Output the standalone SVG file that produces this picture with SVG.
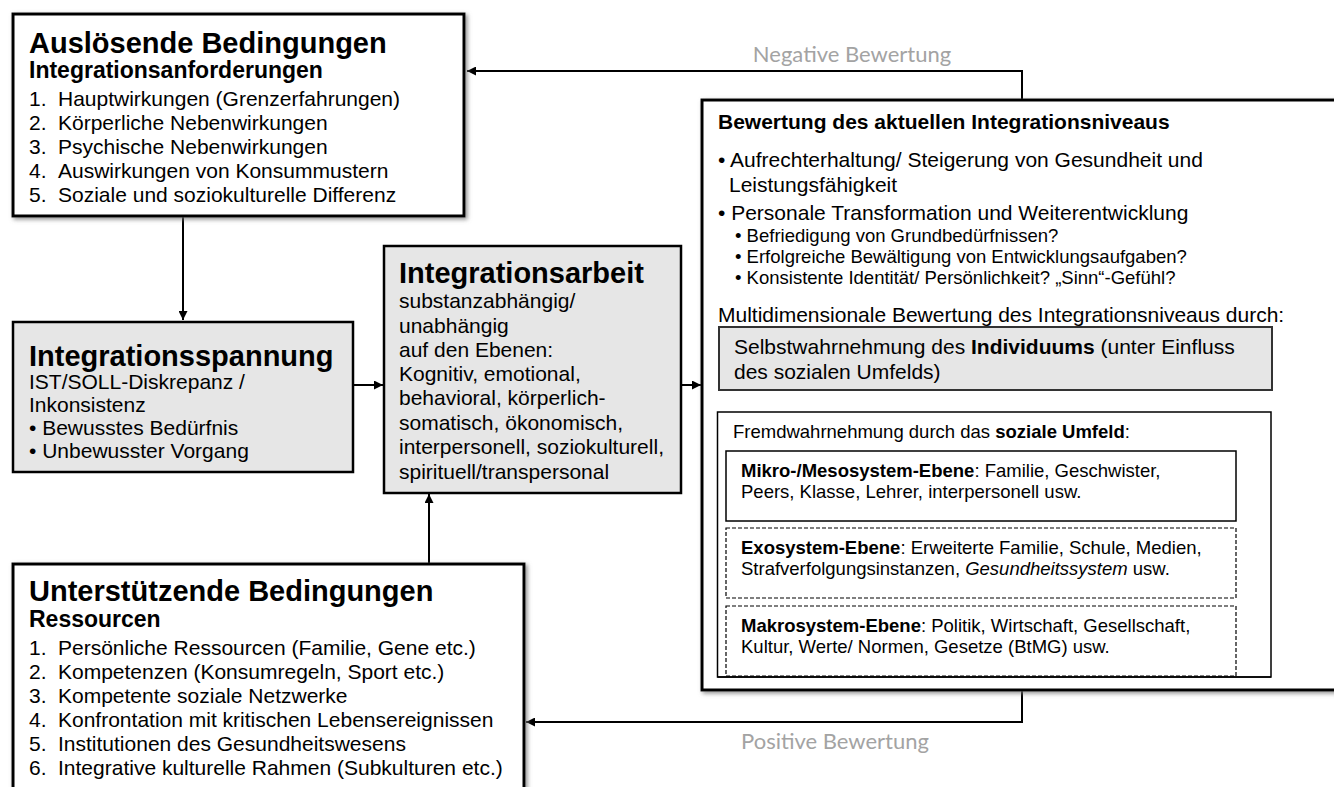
<svg xmlns="http://www.w3.org/2000/svg" width="1334" height="787" viewBox="0 0 1334 787">
<defs>
<filter id="sh" x="-5%" y="-5%" width="110%" height="110%">
<feDropShadow dx="2" dy="2" stdDeviation="2" flood-color="#777" flood-opacity="0.8"/>
</filter>
<marker id="ah" viewBox="0 0 10 10" refX="10" refY="5" markerWidth="9" markerHeight="9" markerUnits="userSpaceOnUse" orient="auto">
<path d="M0,0 L10,5 L0,10 z" fill="#000"/>
</marker>
</defs>
<style>
text{font-family:"Liberation Sans",Arial,sans-serif;fill:#000}
.t1{font-size:29px;font-weight:bold}
.t2{font-size:23px;font-weight:bold}
.b{font-size:21px}
.s{font-size:18.5px}
.lbl{font-family:Lato,"Open Sans",sans-serif;font-size:22px;fill:#a3a3a3}
.box{fill:#fff;stroke:#000;stroke-width:3}
.gbox{fill:#e6e6e6;stroke:#000;stroke-width:2.5}
.con{fill:none;stroke:#000;stroke-width:2}
.bold{font-weight:bold}
</style>
<rect width="1334" height="787" fill="#fff"/>

<g id="connectors">
<path class="con" d="M1022,100 V71 H467" marker-end="url(#ah)"/>
<path class="con" d="M1022,690 V722 H526" marker-end="url(#ah)"/>
<path class="con" d="M183,217 V320" marker-end="url(#ah)"/>
<path class="con" d="M354,385 H383" marker-end="url(#ah)"/>
<path class="con" d="M681,385 H701" marker-end="url(#ah)"/>
<path class="con" d="M429,564 V494" marker-end="url(#ah)"/>
<text class="lbl" x="852" y="62" text-anchor="middle">Negative Bewertung</text>
<text class="lbl" x="835" y="749" text-anchor="middle">Positive Bewertung</text>
</g>

<g id="ausloesende">
<rect class="box" x="13" y="14" width="451" height="202" filter="url(#sh)"/>
<text class="t1" x="29" y="53">Auslösende Bedingungen</text>
<text class="t2" x="29" y="78">Integrationsanforderungen</text>
<text class="b" x="29" y="106">1.</text><text class="b" x="58" y="106">Hauptwirkungen (Grenzerfahrungen)</text>
<text class="b" x="29" y="130">2.</text><text class="b" x="58" y="130">Körperliche Nebenwirkungen</text>
<text class="b" x="29" y="154">3.</text><text class="b" x="58" y="154">Psychische Nebenwirkungen</text>
<text class="b" x="29" y="178">4.</text><text class="b" x="58" y="178">Auswirkungen von Konsummustern</text>
<text class="b" x="29" y="202">5.</text><text class="b" x="58" y="202">Soziale und soziokulturelle Differenz</text>
</g>

<g id="spannung">
<rect class="gbox" x="13" y="322" width="340" height="150"/>
<text class="t1" x="29" y="366">Integrationsspannung</text>
<text class="b" x="29" y="389">IST/SOLL-Diskrepanz /</text>
<text class="b" x="29" y="412">Inkonsistenz</text>
<text class="b" x="29" y="435">• Bewusstes Bedürfnis</text>
<text class="b" x="29" y="458">• Unbewusster Vorgang</text>
</g>

<g id="arbeit">
<rect class="gbox" x="384" y="246" width="297" height="247"/>
<text class="t1" x="399" y="283">Integrationsarbeit</text>
<text class="b" x="399" y="308">substanzabhängig/</text>
<text class="b" x="399" y="333">unabhängig</text>
<text class="b" x="399" y="357">auf den Ebenen:</text>
<text class="b" x="399" y="381">Kognitiv, emotional,</text>
<text class="b" x="399" y="405">behavioral, körperlich-</text>
<text class="b" x="399" y="430">somatisch, ökonomisch,</text>
<text class="b" x="399" y="454">interpersonell, soziokulturell,</text>
<text class="b" x="399" y="479">spirituell/transpersonal</text>
</g>

<g id="unterstuetzende">
<rect class="box" x="13" y="564" width="511" height="240" filter="url(#sh)"/>
<text class="t1" x="29" y="601">Unterstützende Bedingungen</text>
<text class="t2" x="29" y="627">Ressourcen</text>
<text class="b" x="29" y="655">1.</text><text class="b" x="58" y="655">Persönliche Ressourcen (Familie, Gene etc.)</text>
<text class="b" x="29" y="679">2.</text><text class="b" x="58" y="679">Kompetenzen (Konsumregeln, Sport etc.)</text>
<text class="b" x="29" y="703">3.</text><text class="b" x="58" y="703">Kompetente soziale Netzwerke</text>
<text class="b" x="29" y="727">4.</text><text class="b" x="58" y="727">Konfrontation mit kritischen Lebensereignissen</text>
<text class="b" x="29" y="751">5.</text><text class="b" x="58" y="751">Institutionen des Gesundheitswesens</text>
<text class="b" x="29" y="775">6.</text><text class="b" x="58" y="775">Integrative kulturelle Rahmen (Subkulturen etc.)</text>
</g>

<g id="bewertung">
<rect class="box" x="702" y="100" width="660" height="590" filter="url(#sh)"/>
<text x="718" y="129" style="font-size:21px;font-weight:bold">Bewertung des aktuellen Integrationsniveaus</text>
<text class="b" x="718" y="167">• Aufrechterhaltung/ Steigerung von Gesundheit und</text>
<text class="b" x="729" y="192">Leistungsfähigkeit</text>
<text class="b" x="718" y="220">• Personale Transformation und Weiterentwicklung</text>
<text class="s" x="735" y="242">• Befriedigung von Grundbedürfnissen?</text>
<text class="s" x="735" y="263">• Erfolgreiche Bewältigung von Entwicklungsaufgaben?</text>
<text class="s" x="735" y="284">• Konsistente Identität/ Persönlichkeit? „Sinn“-Gefühl?</text>
<text class="b" x="718" y="322">Multidimensionale Bewertung des Integrationsniveaus durch:</text>
</g>

<g id="selbst">
<rect x="719" y="327" width="553" height="63" fill="#e6e6e6" stroke="#333" stroke-width="2"/>
<text class="b" x="734" y="354">Selbstwahrnehmung des <tspan class="bold">Individuums</tspan> (unter Einfluss</text>
<text class="b" x="734" y="379">des sozialen Umfelds)</text>
</g>

<g id="fremd">
<rect x="717.5" y="412" width="553.5" height="265" fill="#fff" stroke="#000" stroke-width="1.5"/>
<text class="s" x="733" y="438">Fremdwahrnehmung durch das <tspan class="bold">soziale Umfeld</tspan>:</text>
</g>

<g id="mikro">
<rect x="726" y="451" width="510" height="70" fill="#fff" stroke="#000" stroke-width="1.5"/>
<text class="s" x="741" y="477"><tspan class="bold">Mikro-/Mesosystem-Ebene</tspan>: Familie, Geschwister,</text>
<text class="s" x="741" y="498">Peers, Klasse, Lehrer, interpersonell usw.</text>
</g>

<g id="exo">
<rect x="726" y="528" width="510" height="70" fill="#fff" stroke="#000" stroke-width="1.2" stroke-dasharray="4 2"/>
<text class="s" x="741" y="554"><tspan class="bold">Exosystem-Ebene</tspan>: Erweiterte Familie, Schule, Medien,</text>
<text class="s" x="741" y="575">Strafverfolgungsinstanzen, <tspan font-style="italic">Gesundheitssystem</tspan> usw.</text>
</g>

<g id="makro">
<rect x="726" y="606" width="510" height="70" fill="#fff" stroke="#000" stroke-width="1.2" stroke-dasharray="4 2"/>
<text class="s" x="741" y="632"><tspan class="bold">Makrosystem-Ebene</tspan>: Politik, Wirtschaft, Gesellschaft,</text>
<text class="s" x="741" y="653">Kultur, Werte/ Normen, Gesetze (BtMG) usw.</text>
<line x1="717.5" y1="677" x2="1271" y2="677" stroke="#000" stroke-width="1.5"/>
</g>
</svg>
